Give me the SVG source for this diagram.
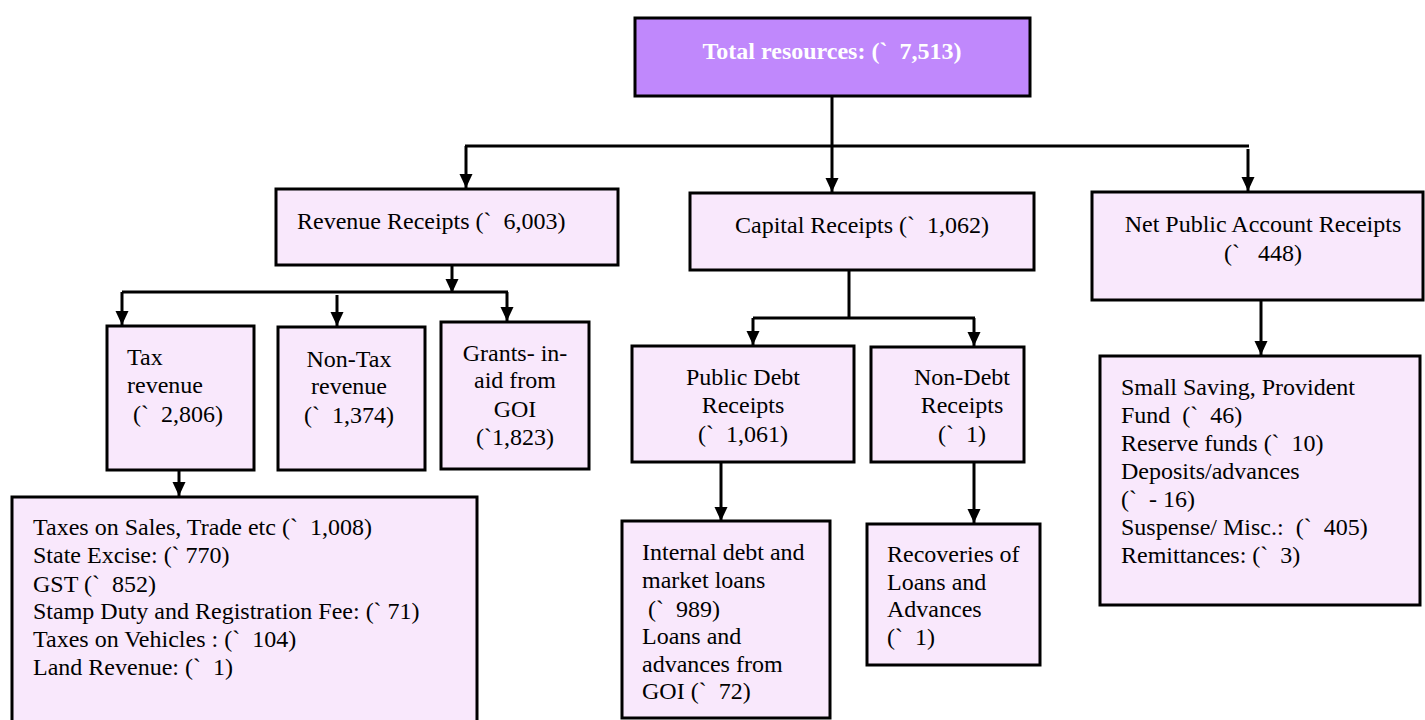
<svg xmlns="http://www.w3.org/2000/svg" width="1425" height="720" viewBox="0 0 1425 720" xml:space="preserve">
<defs>
<style>
.box{fill:#F9E8FC;stroke:#000;stroke-width:3}
.top{fill:#C088FC;stroke:#000;stroke-width:3}
.t{font-family:"Liberation Serif","Times New Roman",serif;font-size:24px;fill:#000;white-space:pre}
.c{text-anchor:middle}
.tb{font-family:"Liberation Serif","Times New Roman",serif;font-size:24px;font-weight:bold;fill:#fff;text-anchor:middle;white-space:pre}
.ln{stroke:#000;stroke-width:3;fill:none}
.ar{stroke:#000;stroke-width:3;fill:none;marker-end:url(#ah)}
</style>
<marker id="ah" markerUnits="userSpaceOnUse" markerWidth="15" markerHeight="14" refX="14" refY="6.5" orient="auto" viewBox="0 0 15 14">
<path d="M0,0 L14,6.5 L0,13 z" fill="#000"/>
</marker>
</defs>
<g id="connectors">
<line class="ln" x1="832" y1="96" x2="832" y2="146"/>
<line class="ln" x1="465" y1="146" x2="1249" y2="146"/>
<line class="ar" x1="466" y1="146" x2="466" y2="188"/>
<line class="ar" x1="832" y1="146" x2="832" y2="192"/>
<line class="ar" x1="1248" y1="149" x2="1248" y2="191"/>
<line class="ar" x1="452" y1="265" x2="452" y2="293"/>
<line class="ln" x1="122" y1="292" x2="508" y2="292"/>
<line class="ar" x1="122" y1="292" x2="122" y2="325"/>
<line class="ar" x1="337" y1="295" x2="337" y2="326"/>
<line class="ar" x1="507" y1="292" x2="507" y2="321"/>
<line class="ar" x1="179" y1="470" x2="179" y2="496"/>
<line class="ln" x1="849" y1="270" x2="849" y2="318"/>
<line class="ln" x1="753" y1="318" x2="975" y2="318"/>
<line class="ar" x1="753" y1="318" x2="753" y2="345"/>
<line class="ar" x1="974" y1="318" x2="974" y2="346"/>
<line class="ar" x1="721" y1="462" x2="721" y2="521"/>
<line class="ar" x1="974" y1="462" x2="974" y2="523"/>
<line class="ar" x1="1261" y1="300" x2="1261" y2="355"/>
</g>
<g id="total">
<rect class="top" x="635" y="18" width="395" height="78"/>
<text class="tb" x="832" y="59">Total resources: (`  7,513)</text>
</g>
<g id="revenue">
<rect class="box" x="276" y="189" width="342" height="76"/>
<text class="t" x="297" y="229">Revenue Receipts (`  6,003)</text>
</g>
<g id="capital">
<rect class="box" x="690" y="193" width="344" height="77"/>
<text class="t c" x="862" y="233">Capital Receipts (`  1,062)</text>
</g>
<g id="npar">
<rect class="box" x="1092" y="192" width="331" height="108"/>
<text class="t c" x="1263" y="232">Net Public Account Receipts</text>
<text class="t c" x="1263" y="261">(`   448)</text>
</g>
<g id="tax">
<rect class="box" x="107" y="326" width="147" height="144"/>
<text class="t" x="127" y="365">Tax</text>
<text class="t" x="127" y="393">revenue</text>
<text class="t" x="127" y="422"> (`  2,806)</text>
</g>
<g id="nontax">
<rect class="box" x="278" y="327" width="147" height="143"/>
<text class="t c" x="349" y="367">Non-Tax</text>
<text class="t c" x="349" y="394">revenue</text>
<text class="t c" x="349" y="423">(`  1,374)</text>
</g>
<g id="grants">
<rect class="box" x="441" y="322" width="148" height="147"/>
<text class="t c" x="515" y="361">Grants- in-</text>
<text class="t c" x="515" y="388">aid from</text>
<text class="t c" x="515" y="417">GOI</text>
<text class="t c" x="515" y="445">(`1,823)</text>
</g>
<g id="taxes">
<rect class="box" x="12" y="497" width="465" height="228"/>
<text class="t" x="33" y="535">Taxes on Sales, Trade etc (`  1,008)</text>
<text class="t" x="33" y="563">State Excise: (` 770)</text>
<text class="t" x="33" y="592">GST (`  852)</text>
<text class="t" x="33" y="619">Stamp Duty and Registration Fee: (` 71)</text>
<text class="t" x="33" y="647">Taxes on Vehicles : (`  104)</text>
<text class="t" x="33" y="675">Land Revenue: (`  1)</text>
</g>
<g id="publicdebt">
<rect class="box" x="632" y="346" width="222" height="116"/>
<text class="t c" x="743" y="385">Public Debt</text>
<text class="t c" x="743" y="413">Receipts</text>
<text class="t c" x="743" y="442">(`  1,061)</text>
</g>
<g id="nondebt">
<rect class="box" x="871" y="347" width="153" height="115"/>
<text class="t c" x="962" y="385">Non-Debt</text>
<text class="t c" x="962" y="413">Receipts</text>
<text class="t c" x="962" y="442">(`  1)</text>
</g>
<g id="internal">
<rect class="box" x="622" y="521" width="208" height="197"/>
<text class="t" x="642" y="560">Internal debt and</text>
<text class="t" x="642" y="588">market loans</text>
<text class="t" x="642" y="617"> (`  989)</text>
<text class="t" x="642" y="644">Loans and</text>
<text class="t" x="642" y="672">advances from</text>
<text class="t" x="642" y="699">GOI (`  72)</text>
</g>
<g id="recoveries">
<rect class="box" x="867" y="524" width="173" height="141"/>
<text class="t" x="887" y="562">Recoveries of</text>
<text class="t" x="887" y="590">Loans and</text>
<text class="t" x="887" y="617">Advances</text>
<text class="t" x="887" y="645">(`  1)</text>
</g>
<g id="publicaccount">
<rect class="box" x="1100" y="356" width="320" height="249"/>
<text class="t" x="1121" y="395">Small Saving, Provident</text>
<text class="t" x="1121" y="423">Fund  (`  46)</text>
<text class="t" x="1121" y="451">Reserve funds (`  10)</text>
<text class="t" x="1121" y="479">Deposits/advances</text>
<text class="t" x="1121" y="507">(`  - 16)</text>
<text class="t" x="1121" y="535">Suspense/ Misc.:  (`  405)</text>
<text class="t" x="1121" y="563">Remittances: (`  3)</text>
</g>
</svg>
